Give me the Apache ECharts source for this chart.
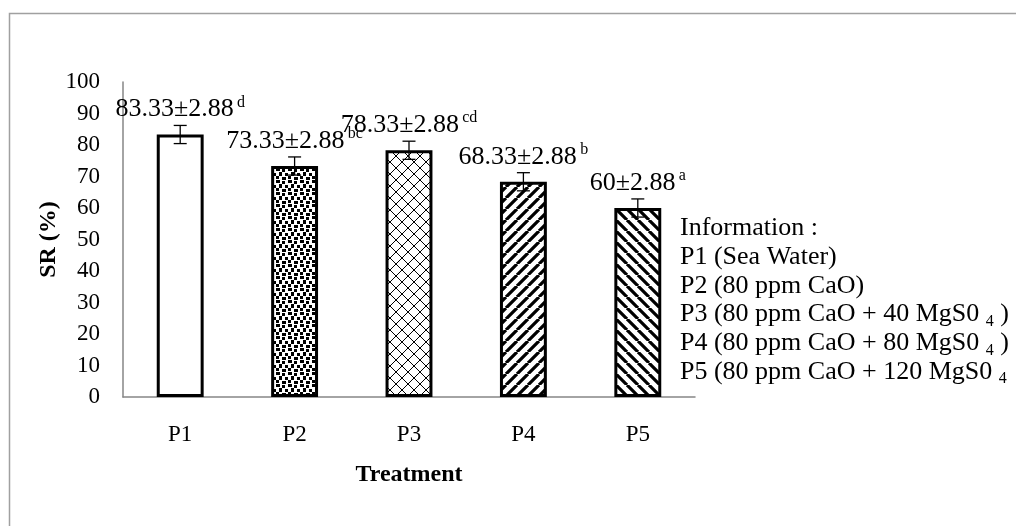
<!DOCTYPE html>
<html>
<head>
<meta charset="utf-8">
<script src="https://cdn.jsdelivr.net/npm/echarts@6/dist/echarts.min.js"></script>
<style>
  html, body { margin: 0; padding: 0; background: #fff; }
  #chart { width: 1016px; height: 526px; }
</style>
</head>
<body>
<div id="chart"></div>
<script>
// data
const categories = ['P1', 'P2', 'P3', 'P4', 'P5'];
const means = [83.33, 73.33, 78.33, 68.33, 60];
const errors = [2.88, 2.88, 2.88, 2.88, 2.88];
const letters = ['d', 'bc', 'cd', 'b', 'a'];
const yTicks = { min: 0, max: 100, interval: 10 };
const infoTitle = 'Information :';
const infoLines = [
  ['P1 (Sea Water)', '', ''],
  ['P2 (80 ppm CaO)', '', ''],
  ['P3 (80 ppm CaO + 40 MgS0 ', '4', ' )'],
  ['P4 (80 ppm CaO + 80 MgS0 ', '4', ' )'],
  ['P5 (80 ppm CaO + 120 MgS0 ', '4', '']
];

const FONT = 'Liberation Serif';

// hatch fills, one per treatment
function makeTile(size, draw) {
  const c = document.createElement('canvas');
  c.width = size; c.height = size;
  const ctx = c.getContext('2d');
  ctx.fillStyle = '#fff';
  ctx.fillRect(0, 0, size, size);
  ctx.fillStyle = '#000';
  ctx.strokeStyle = '#000';
  draw(ctx, size);
  return c;
}
const patterns = [
  null,
  makeTile(12, (ctx) => {
    [[0, 0, 4, 3], [6, 1, 3, 3], [3, 4, 3, 4], [9, 5, 3, 3], [0, 8, 3, 3], [6, 9, 4, 3]].forEach(([x, y, w, h]) => {
      ctx.fillRect(x, y, w, h);
    });
  }),
  makeTile(12, (ctx, s) => {
    ctx.lineWidth = 1;
    ctx.beginPath();
    ctx.moveTo(0, 0); ctx.lineTo(s, s);
    ctx.moveTo(s, 0); ctx.lineTo(0, s);
    ctx.stroke();
  }),
  makeTile(11, (ctx, s) => {
    ctx.lineWidth = 3.2;
    ctx.beginPath();
    for (let k = -1; k <= 1; k++) {
      ctx.moveTo(k * s, s); ctx.lineTo(k * s + s, 0);
    }
    ctx.stroke();
  }),
  makeTile(11, (ctx, s) => {
    ctx.lineWidth = 3.2;
    ctx.beginPath();
    for (let k = -1; k <= 1; k++) {
      ctx.moveTo(k * s, 0); ctx.lineTo(k * s + s, s);
    }
    ctx.stroke();
  })
];

const barData = means.map((v, i) => ({
  value: v,
  itemStyle: {
    color: patterns[i] ? { image: patterns[i], repeat: 'repeat' } : '#fff',
    borderColor: '#000',
    borderWidth: 3
  }
}));

const errData = means.map((v, i) => [i, v, errors[i]]);

// legend-like note on the right
const infoGraphics = [{
  type: 'text', left: 680, top: 215,
  style: { text: infoTitle, font: '26px "' + FONT + '"', fill: '#000' }
}].concat(infoLines.map((l, i) => ({
  type: 'text', left: 680, top: 244 + i * 28.8,
  style: {
    text: '{a|' + l[0] + '}' + (l[1] ? '{b|' + l[1] + '}' : '') + (l[2] ? '{a|' + l[2] + '}' : ''),
    rich: {
      a: { fontSize: 26, fontFamily: FONT, fill: '#000', lineHeight: 30 },
      b: { fontSize: 16, fontFamily: FONT, fill: '#000', verticalAlign: 'bottom', lineHeight: 16 }
    }
  }
})));

const chart = echarts.init(document.getElementById('chart'));
chart.setOption({
  backgroundColor: '#fff',
  animation: false,
  grid: { left: 123, right: 321, top: 82, bottom: 129 },
  xAxis: {
    type: 'category',
    data: categories,
    name: 'Treatment',
    nameLocation: 'middle',
    nameGap: 66,
    nameTextStyle: { fontFamily: FONT, fontSize: 24, fontWeight: 'bold', color: '#000' },
    axisTick: { show: false },
    axisLine: { lineStyle: { color: '#868686', width: 1.5 } },
    axisLabel: { fontFamily: FONT, fontSize: 23, color: '#000', margin: 26 }
  },
  yAxis: {
    type: 'value',
    min: yTicks.min,
    max: yTicks.max,
    interval: yTicks.interval,
    name: 'SR (%)',
    nameLocation: 'middle',
    nameGap: 62,
    nameMoveOverlap: false,
    nameTextStyle: { fontFamily: FONT, fontSize: 24, fontWeight: 'bold', color: '#000' },
    axisTick: { show: false },
    splitLine: { show: false },
    axisLine: { show: true, lineStyle: { color: '#868686', width: 1.5 } },
    axisLabel: { fontFamily: FONT, fontSize: 23, color: '#000', margin: 23 }
  },
  graphic: [{
    type: 'rect', silent: true,
    shape: { x: 9.5, y: 13.5, width: 1300, height: 800 },
    style: { fill: null, stroke: '#a0a0a0', lineWidth: 1.5 }
  }].concat(infoGraphics),
  series: [
    {
      type: 'bar',
      data: barData,
      barWidth: '41%',
      label: {
        show: true,
        position: 'top',
        distance: 10,
        formatter: (p) => '{v|' + means[p.dataIndex] + '±' + errors[p.dataIndex] + '} {s|' + letters[p.dataIndex] + '}',
        rich: {
          v: { fontFamily: FONT, fontSize: 26, color: '#000', lineHeight: 30 },
          s: { fontFamily: FONT, fontSize: 16, color: '#000', verticalAlign: 'top', lineHeight: 16 }
        }
      }
    },
    {
      type: 'custom',
      data: errData,
      encode: { x: 0, y: 1 },
      z: 5,
      renderItem: (params, api) => {
        const idx = api.value(0);
        const m = api.value(1);
        const e = api.value(2);
        const hi = api.coord([idx, m + e]);
        const lo = api.coord([idx, m - e]);
        const w = 6.5;
        const st = { stroke: '#000', lineWidth: 1.3 };
        return {
          type: 'group',
          children: [
            { type: 'line', shape: { x1: hi[0], y1: hi[1], x2: lo[0], y2: lo[1] }, style: st },
            { type: 'line', shape: { x1: hi[0] - w, y1: hi[1], x2: hi[0] + w, y2: hi[1] }, style: st },
            { type: 'line', shape: { x1: lo[0] - w, y1: lo[1], x2: lo[0] + w, y2: lo[1] }, style: st }
          ]
        };
      }
    }
  ]
});
window.addEventListener('resize', () => chart.resize());
</script>
</body>
</html>
